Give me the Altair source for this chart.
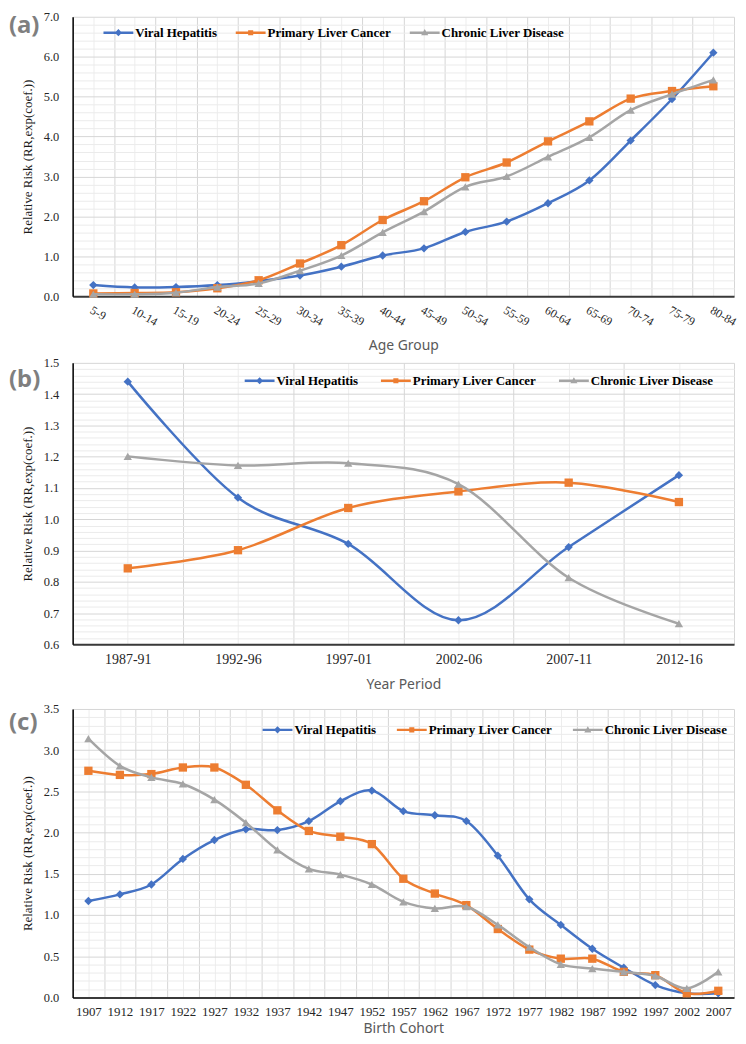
import json
import pandas as pd
import altair as alt

SERIES = ["Viral Hepatitis", "Primary Liver Cancer", "Chronic Liver Disease"]
COLORS = ["#4472C4", "#ED7D31", "#A5A5A5"]
SHAPES = ["diamond", "square", "triangle-up"]

# (a) age effect
age_groups = ["5-9", "10-14", "15-19", "20-24", "25-29", "30-34", "35-39", "40-44",
              "45-49", "50-54", "55-59", "60-64", "65-69", "70-74", "75-79", "80-84"]
age_viral = [0.28, 0.22, 0.23, 0.28, 0.38, 0.52, 0.74, 1.02, 1.20, 1.61, 1.87, 2.33, 2.90, 3.90, 4.94, 6.10]
age_plc = [0.07, 0.08, 0.10, 0.20, 0.40, 0.82, 1.28, 1.91, 2.38, 2.98, 3.35, 3.88, 4.38, 4.95, 5.14, 5.26]
age_cld = [0.05, 0.05, 0.09, 0.23, 0.32, 0.64, 1.02, 1.60, 2.12, 2.74, 3.00, 3.49, 3.98, 4.66, 5.06, 5.42]

# (b) period effect
periods = ["1987-91", "1992-96", "1997-01", "2002-06", "2007-11", "2012-16"]
per_viral = [1.440, 1.069, 0.921, 0.677, 0.911, 1.141]
per_plc = [0.843, 0.901, 1.036, 1.089, 1.117, 1.055]
per_cld = [1.201, 1.172, 1.179, 1.112, 0.813, 0.666]

# (c) cohort effect
cohorts = ["1907", "1912", "1917", "1922", "1927", "1932", "1937", "1942", "1947", "1952", "1957",
           "1962", "1967", "1972", "1977", "1982", "1987", "1992", "1997", "2002", "2007"]
coh_viral = [1.17, 1.25, 1.37, 1.68, 1.91, 2.04, 2.03, 2.14, 2.38, 2.51, 2.26, 2.21, 2.14, 1.72,
             1.19, 0.88, 0.59, 0.36, 0.15, 0.05, 0.05]
coh_plc = [2.75, 2.70, 2.71, 2.79, 2.79, 2.58, 2.27, 2.02, 1.95, 1.86, 1.44, 1.26, 1.12, 0.83,
           0.58, 0.47, 0.47, 0.31, 0.27, 0.05, 0.08]
coh_cld = [3.14, 2.81, 2.67, 2.59, 2.40, 2.12, 1.79, 1.56, 1.49, 1.37, 1.16, 1.08, 1.10, 0.88,
           0.61, 0.40, 0.35, 0.31, 0.26, 0.11, 0.31]

# legend symbols: a short bar (the line) plus the series marker
LEGEND_PATHS = [
    "M-1,-0.08H1V0.08H-1Z M0,-0.24L0.24,0L0,0.24L-0.24,0Z",
    "M-1,-0.08H1V0.08H-1Z M-0.17,-0.17H0.17V0.17H-0.17Z",
    "M-1,-0.08H1V0.08H-1Z M0,-0.24L0.24,0.17H-0.24Z",
]

W = 665


def long_df(cats, series_vals):
    rows = []
    for s, vals in zip(SERIES, series_vals):
        for i, (c, v) in enumerate(zip(cats, vals)):
            rows.append({"idx": i, "cat": c, "series": s, "value": v})
    return pd.DataFrame(rows)


def panel(cats, vals, ymin, ymax, major, minor, xtitle, letter, height,
          label_angle, label_size, lx, ly, cp, letter_y, xtitle_pad):
    n = len(cats)
    df = long_df(cats, vals)
    xvals = [k / 2 - 0.5 for k in range(2 * n + 1)]
    cats_js = json.dumps(cats)
    x_axis = alt.Axis(
        values=xvals,
        labelExpr=f"abs(datum.value - round(datum.value)) < 0.01 ? {cats_js}[round(datum.value)] : ''",
        labelOverlap=False, labelFlush=False, labelBound=False,
        labelAngle=label_angle,
        labelAlign="left" if label_angle else "center",
        labelBaseline="top",
        labelFont="Liberation Serif",
        labelFontSize=label_size,
        labelPadding=8,
        ticks=False, tickSize=0,
        grid=True,
        gridColor={"condition": {"test": "abs(datum.value - round(datum.value)) > 0.01", "value": "#D6D6D6"},
                   "value": "#EDEDED"},
        gridWidth=1,
        domainColor="#3A3A3A", domainWidth=2,
        title=xtitle, titlePadding=xtitle_pad,
    )
    nsteps = int(round((ymax - ymin) / minor))
    yvals = [round(ymin + k * minor, 4) for k in range(nsteps + 1)]
    major_test = f"abs(datum.value / {major} - round(datum.value / {major})) < 0.001"
    y_axis = alt.Axis(
        values=yvals,
        labelExpr=f"{major_test} ? format(datum.value, '.1f') : ''",
        labelOverlap=False, labelFlush=False, labelBound=False,
        labelFont="Liberation Serif", labelFontSize=12.5,
        ticks=False, tickSize=0, labelPadding=14,
        grid=True,
        gridColor={"condition": {"test": major_test, "value": "#D6D6D6"}, "value": "#EBEBEB"},
        gridWidth=1,
        domainColor="#000000", domainWidth=1.5,
        title="Relative Risk (RR,exp(coef.))",
        titleFont="Liberation Serif", titleFontSize=13, titleFontWeight="normal",
        titleColor="#1A1A1A", titlePadding=9,
    )
    xs = alt.Scale(domain=[-0.5, n - 0.5], nice=False, zero=False)
    ys = alt.Scale(domain=[ymin, ymax], nice=False, zero=False)
    x_enc = alt.X("idx:Q", scale=xs, axis=x_axis)
    y_enc = alt.Y("value:Q", scale=ys, axis=y_axis)
    base = alt.Chart(df)

    layers = []
    for s, c, sh in zip(SERIES, COLORS, SHAPES):
        sub = base.transform_filter(alt.datum.series == s)
        layers.append(sub.mark_line(interpolate="cardinal", strokeWidth=2.5, color=c).encode(x=x_enc, y=y_enc))
        layers.append(sub.mark_point(filled=True, size=70, opacity=1, strokeWidth=0, color=c, shape=sh)
                      .encode(x=x_enc, y=y_enc))

    legend = alt.Legend(
        orient="none", legendX=lx, legendY=ly, direction="horizontal", title=None,
        labelFont="Liberation Serif", labelFontSize=13, labelFontWeight="bold", labelColor="#000000",
        symbolSize=900, symbolStrokeWidth=0, symbolOpacity=1, labelOffset=2, columnPadding=cp,
    )
    leg_layer = base.transform_filter("false").mark_point(filled=True, opacity=1, size=900).encode(
        x=x_enc, y=y_enc,
        color=alt.Color("series:N", scale=alt.Scale(domain=SERIES, range=COLORS), legend=legend),
        shape=alt.Shape("series:N", scale=alt.Scale(domain=SERIES, range=LEGEND_PATHS), legend=legend),
    )
    layers.append(leg_layer)

    lab = alt.Chart(pd.DataFrame({"t": [letter]})).mark_text(
        align="left", baseline="middle", font="Noto Sans", fontSize=24,
        fontWeight="bold", color="#7F7F7F",
    ).encode(x=alt.value(-64), y=alt.value(letter_y), text="t:N")
    layers.append(lab)
    return alt.layer(*layers).properties(width=W, height=height)


pa = panel(age_groups, [age_viral, age_plc, age_cld], 0.0, 7.0, 1.0, 0.2, "Age Group", "(a)", 281,
           30, 12, 31, 1, 18, 9, 11)
pb = panel(periods, [per_viral, per_plc, per_cld], 0.6, 1.5, 0.1, 0.02, "Year Period", "(b)", 283,
           0, 14, 173, 3, 22, 17, 11)
pc = panel(cohorts, [coh_viral, coh_plc, coh_cld], 0.0, 3.5, 0.5, 0.1, "Birth Cohort", "(c)", 290,
           0, 13, 191, 6, 20, 14, 3)


def indep(ch):
    return ch.resolve_scale(
        x="independent", y="independent", color="independent", shape="independent"
    ).resolve_legend(color="independent", shape="independent")


top = indep(alt.vconcat(pa, pb, spacing=4))
chart = indep(alt.vconcat(top, pc, spacing=12)).configure_view(
    stroke=None
).configure_axis(
    labelFont="Liberation Serif", labelColor="#262626", labelFontSize=12,
    titleFont="Noto Sans", titleFontSize=14, titleFontWeight="normal", titleColor="#595959",
).properties(
    padding={"left": 1, "top": 0, "right": 0, "bottom": 0}, background="white"
)

chart.save("out.html", embed_options={"renderer": "svg", "actions": False})
